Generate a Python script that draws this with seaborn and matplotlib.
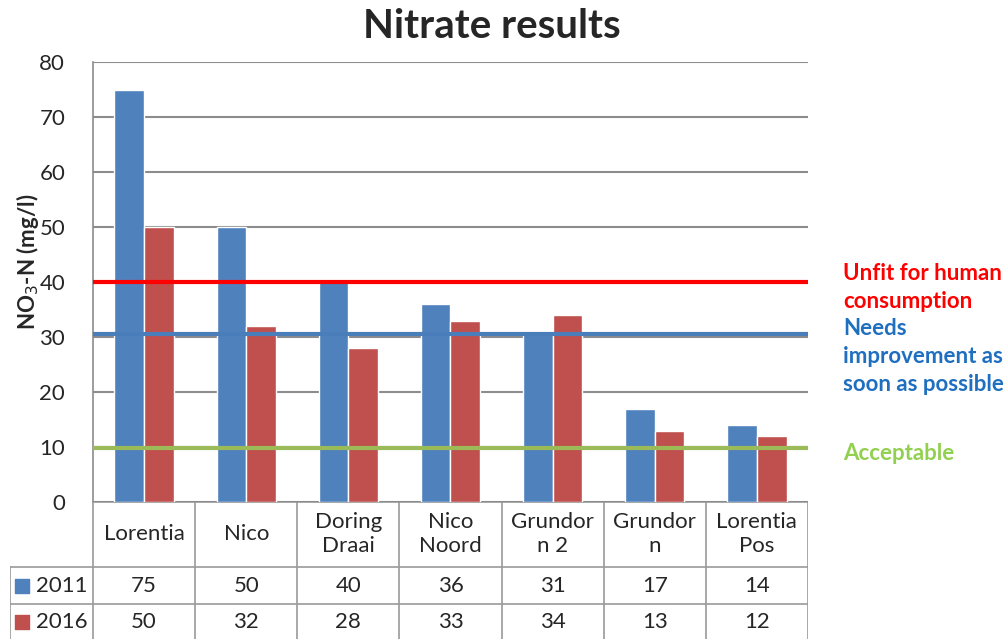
import pandas as pd
import matplotlib.pyplot as plt
import seaborn as sns

# Datos
sitios = ['Lorentia', 'Nico', 'Doring\nDraai', 'Nico\nNoord', 'Grundor\nn 2', 'Grundor\nn', 'Lorentia\nPos']
anios = ['2011', '2016']
valores_2011 = [75, 50, 40, 36, 31, 17, 14]
valores_2016 = [50, 32, 28, 33, 34, 13, 12]
colores = ['#4F81BD', '#C0504D']

# Umbrales
umbral_no_apto = 40
umbral_mejora = 30.5
umbral_aceptable = 9.8

data = pd.DataFrame({
    'sitio': sitios * 2,
    'anio': [anios[0]] * len(sitios) + [anios[1]] * len(sitios),
    'valor': valores_2011 + valores_2016,
})

sns.set_style('white')
plt.rcParams['font.family'] = ['Lato', 'DejaVu Sans']

fig = plt.figure(figsize=(10.07, 6.39), dpi=100)
ax = fig.add_axes([93 / 1007, 1 - 502 / 639, 715 / 1007, 440 / 639])

sns.barplot(data=data, x='sitio', y='valor', hue='anio', palette=colores,
            width=0.58, saturation=1, ax=ax, legend=False, zorder=2)

ax.set_ylim(0, 80)
ax.set_xlim(-0.5, len(sitios) - 0.5)
ax.set_yticks(range(0, 81, 10))
ax.tick_params(axis='y', labelsize=16, length=0, pad=20)
ax.set_xticks([])
ax.set_xlabel('')
ax.set_ylabel('NO$_3$-N (mg/l)', fontsize=16, fontweight='bold')
ax.yaxis.set_label_coords(-0.073, 0.545)
ax.yaxis.grid(True, color='#8C8C8C', linewidth=1.5, zorder=0)
for lado in ['top', 'right', 'bottom']:
    ax.spines[lado].set_visible(False)
ax.spines['left'].set_color('#8C8C8C')
ax.spines['left'].set_linewidth(1.2)

# Líneas de umbral
ax.axhline(umbral_no_apto, color='#FF0000', linewidth=3, zorder=3)
ax.axhline(umbral_mejora, color='#4A7EBB', linewidth=3, zorder=3)
ax.axhline(umbral_aceptable, color='#9BBB59', linewidth=3, zorder=3)

trans = ax.get_yaxis_transform()
ax.text(1.049, 43.4, 'Unfit for human\nconsumption', color='#FF0000', fontsize=16,
        fontweight='bold', va='top', ha='left', transform=trans, linespacing=1.4)
ax.text(1.049, 33.4, 'Needs\nimprovement as\nsoon as possible', color='#1F6FC0', fontsize=16,
        fontweight='bold', va='top', ha='left', transform=trans, linespacing=1.4)
ax.text(1.049, 8.9, 'Acceptable', color='#92D050', fontsize=16,
        fontweight='bold', va='center', ha='left', transform=trans)

fig.text(0.488, 0.958, 'Nitrate results', fontsize=29, fontweight='bold', ha='center', va='center')

# Tabla de datos debajo del gráfico
tax = fig.add_axes([10 / 1007, 0, 798 / 1007, 137 / 639])
ancho_etiqueta = 83 / (715 / 7)
tax.set_xlim(-0.5 - ancho_etiqueta, len(sitios) - 0.5)
tax.set_ylim(137, 0)
tax.axis('off')
gris = '#9A9A9A'
n = len(sitios)
filas = [0, 65, 102, 137]

tax.plot([-0.5, n - 0.5], [filas[0], filas[0]], color=gris, lw=1.2)
tax.plot([-0.5 - ancho_etiqueta, n - 0.5], [filas[1], filas[1]], color=gris, lw=1.2)
tax.plot([-0.5 - ancho_etiqueta, n - 0.5], [filas[2], filas[2]], color=gris, lw=1.2)
tax.plot([-0.5 - ancho_etiqueta, -0.5 - ancho_etiqueta], [filas[1], filas[3]], color=gris, lw=1.2)
for i in range(n + 1):
    tax.plot([i - 0.5, i - 0.5], [filas[0], filas[3]], color=gris, lw=1.2)

for i, s in enumerate(sitios):
    tax.text(i, (filas[0] + filas[1]) / 2, s, ha='center', va='center', fontsize=16, linespacing=1.25)
    tax.text(i, (filas[1] + filas[2]) / 2, str(valores_2011[i]), ha='center', va='center', fontsize=16)
    tax.text(i, (filas[2] + filas[3]) / 2, str(valores_2016[i]), ha='center', va='center', fontsize=16)

for k, (anio, c) in enumerate(zip(anios, colores)):
    yc = (filas[k + 1] + filas[k + 2]) / 2
    tax.scatter([-0.5 - ancho_etiqueta + 0.12], [yc], marker='s', s=95, color=c, clip_on=False)
    tax.text(-0.5 - ancho_etiqueta + 0.25, yc, anio, ha='left', va='center', fontsize=16)

plt.savefig('out.png', dpi=100)
